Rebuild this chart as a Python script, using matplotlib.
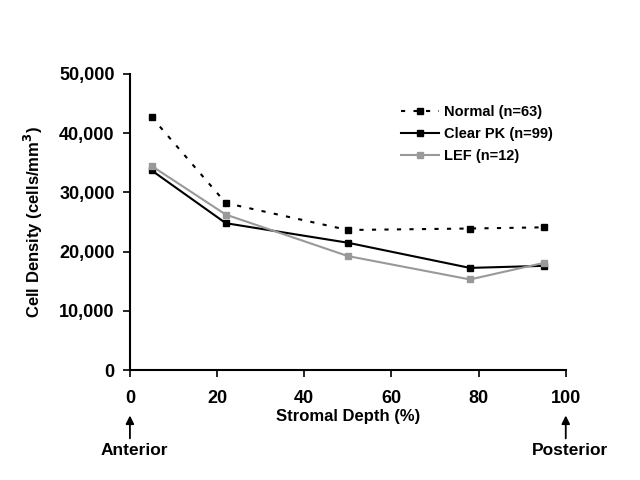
import matplotlib
matplotlib.use('Agg')
import matplotlib.pyplot as plt
from matplotlib.ticker import FuncFormatter

plt.rcParams['font.family'] = ['Liberation Sans', 'DejaVu Sans']
plt.rcParams['font.weight'] = 'bold'

depth = [5, 22, 50, 78, 95]
normal = [42700, 28200, 23650, 23900, 24100]
clear_pk = [33700, 24800, 21500, 17250, 17600]
lef = [34450, 26250, 19250, 15300, 18100]

fig = plt.figure(figsize=(6.4, 4.8), dpi=100)
ax = fig.add_axes([0.203, 0.229, 0.681, 0.617])

ax.plot(depth, normal, color='black', linestyle=(0, (2, 4)), linewidth=1.5,
        marker='s', markersize=4, label='Normal (n=63)')
ax.plot(depth, clear_pk, color='black', linestyle='-', linewidth=1.5,
        marker='s', markersize=4, label='Clear PK (n=99)')
ax.plot(depth, lef, color='#999999', linestyle='-', linewidth=1.5,
        marker='s', markersize=4, label='LEF (n=12)')

ax.set_xlim(0, 100)
ax.set_ylim(0, 50000)
ax.set_xticks([0, 20, 40, 60, 80, 100])
ax.set_yticks([0, 10000, 20000, 30000, 40000, 50000])
ax.yaxis.set_major_formatter(FuncFormatter(lambda v, p: f'{int(v):,}'))
for s in ['top', 'right']:
    ax.spines[s].set_visible(False)
for s in ['left', 'bottom']:
    ax.spines[s].set_linewidth(1.5)
ax.tick_params(direction='out', length=5, width=1.2, labelsize=13, pad=6)
ax.tick_params(axis='x', pad=9)

ax.set_xlabel('Stromal Depth (%)', fontsize=12, fontweight='bold', labelpad=2)
ax.set_ylabel('Cell Density (cells/mm$^\\mathbf{3}$)', fontsize=12,
              fontweight='bold', labelpad=10)

leg = ax.legend(loc='upper right', bbox_to_anchor=(1.0, 0.94), frameon=False,
                fontsize=10.5, handlelength=2.6, handletextpad=0.3, labelspacing=0.55)
for t in leg.get_texts():
    t.set_fontweight('bold')

# Anterior / Posterior arrows below the axis
for xv, lab in [(0, 'Anterior'), (100, 'Posterior')]:
    ax.annotate('', xy=(xv, -7200), xytext=(xv, -12000), xycoords='data',
                annotation_clip=False,
                arrowprops=dict(arrowstyle='-|>', color='black', lw=1.3,
                                mutation_scale=12))
    ax.text(xv + 1, -13600, lab, ha='center', va='center', fontsize=12.5,
            fontweight='bold', clip_on=False)

plt.savefig('out.png', dpi=100)
